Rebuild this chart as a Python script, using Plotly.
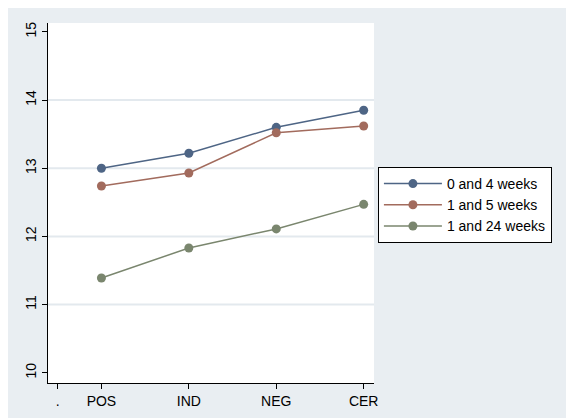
import plotly.graph_objects as go

categories = ["POS", "IND", "NEG", "CER"]
series_names = ["0 and 4 weeks", "1 and 5 weeks", "1 and 24 weeks"]
s1 = [13.00, 13.22, 13.60, 13.85]
s2 = [12.74, 12.93, 13.52, 13.62]
s3 = [11.39, 11.83, 12.11, 12.47]
y_ticks = [10, 11, 12, 13, 14, 15]
grid_vals = [11, 12, 13, 14]

colors = ["#4E6585", "#A26B5D", "#7A866E"]
xpos = [i + 1 for i in range(len(categories))]

fig = go.Figure()
for name, vals, c in zip(series_names, [s1, s2, s3], colors):
    fig.add_trace(go.Scatter(
        x=xpos, y=vals, name=name, mode="lines+markers",
        line=dict(color=c, width=1.5),
        marker=dict(color=c, size=9),
    ))

shapes = []
for g in grid_vals:
    shapes.append(dict(type="line", xref="paper", x0=0, x1=1, yref="y", y0=g, y1=g,
                       line=dict(color="#E3E9EE", width=2), layer="below"))

fig.update_layout(
    width=574, height=418,
    margin=dict(l=40, r=208, t=15, b=43),
    paper_bgcolor="#E9EEF2", plot_bgcolor="white",
    font=dict(family="Liberation Sans, Arial, sans-serif", size=14, color="black"),
    shapes=shapes,
    xaxis=dict(
        range=[0.389, 4.118],
        tickvals=[0.5] + xpos, ticktext=["."] + categories,
        showgrid=False, zeroline=False,
        showline=True, linecolor="black", linewidth=1,
        ticks="outside", ticklen=5, tickcolor="black",
        tickfont=dict(size=14),
    ),
    yaxis=dict(
        range=[9.85, 15.13],
        tickvals=y_ticks,
        showgrid=False, zeroline=False,
        showline=True, linecolor="black", linewidth=1,
        ticks="outside", ticklen=5, tickcolor="black",
        tickangle=-90, tickfont=dict(size=14),
    ),
    legend=dict(
        x=1.012, y=0.6, xanchor="left", yanchor="top",
        bgcolor="white", bordercolor="black", borderwidth=1,
        font=dict(size=14), itemwidth=58,
    ),
    showlegend=True,
)

fig.write_html("out.html")
